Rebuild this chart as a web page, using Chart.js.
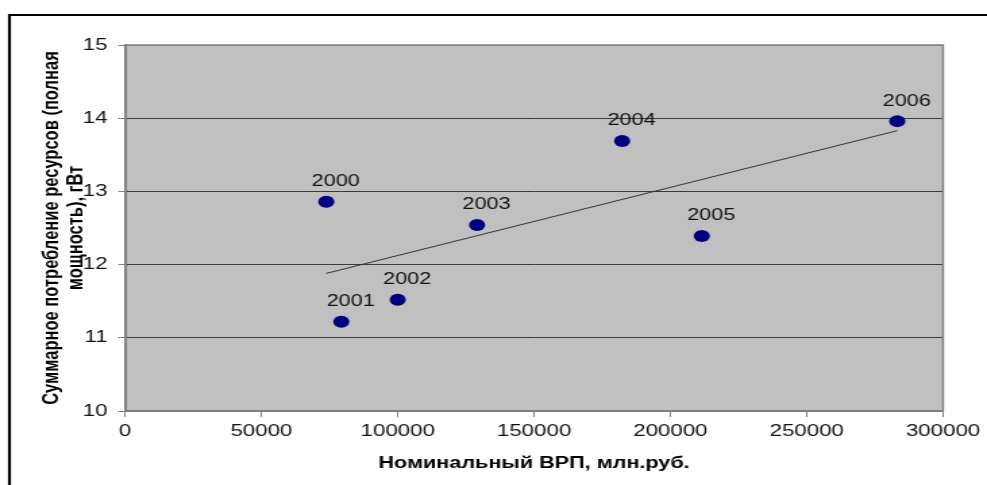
<!DOCTYPE html>
<html>
<head>
<meta charset="utf-8">
<script src="https://cdn.jsdelivr.net/npm/chart.js@4.4.1/dist/chart.umd.min.js"></script>
<style>
  html, body { margin: 0; padding: 0; background: #fff; overflow: hidden; }
  /* the reference picture is stretched sideways, so the chart is drawn narrow and widened */
  #wrap { width: 731px; height: 485px; transform: scaleX(1.3502); transform-origin: 0 0; }
</style>
</head>
<body>
<div id="wrap"><canvas id="chart_1" width="731" height="485"></canvas></div>
<script>
const years = ["2000", "2001", "2002", "2003", "2004", "2005", "2006"];
const grpValues = [73800, 79300, 100000, 129100, 182300, 211500, 283200]; // млн.руб.
const powerValues = [12.86, 11.22, 11.52, 12.54, 13.69, 12.39, 13.96]; // гВт
const trendX = [73800, 283200];
const trendY = [11.88, 13.83];
const xTicks = [0, 50000, 100000, 150000, 200000, 250000, 300000];
const yTicks = [10, 11, 12, 13, 14, 15];

const FONT = "'Liberation Sans', Arial, sans-serif";

const points = grpValues.map((x, i) => ({ x: x, y: powerValues[i] }));
const trend = trendX.map((x, i) => ({ x: x, y: trendY[i] }));

// grey plot area + outer frame
const backdrop = {
  id: "backdrop",
  beforeDraw(chart) {
    const { ctx, chartArea: a } = chart;
    ctx.save();
    ctx.fillStyle = "#c0c0c0";
    ctx.fillRect(a.left, a.top, a.right - a.left, a.bottom - a.top);
    ctx.strokeStyle = "#000";
    ctx.lineWidth = 2.2;
    ctx.beginPath();
    ctx.moveTo(7, chart.height);
    ctx.lineTo(7, 15);
    ctx.lineTo(chart.width, 15);
    ctx.stroke();
    ctx.restore();
  },
  beforeDatasetsDraw(chart) {
    const { ctx, chartArea: a } = chart;
    ctx.save();
    ctx.strokeStyle = "#808080";
    ctx.lineWidth = 1.5;
    ctx.beginPath();
    ctx.moveTo(a.left, a.top);
    ctx.lineTo(a.right, a.top);
    ctx.lineTo(a.right, a.bottom);
    ctx.stroke();
    ctx.restore();
  },
};

// year labels above the points
const yearLabels = {
  id: "yearLabels",
  afterDatasetsDraw(chart) {
    const { ctx } = chart;
    const meta = chart.getDatasetMeta(1);
    ctx.save();
    ctx.font = "16px " + FONT;
    ctx.fillStyle = "#111";
    ctx.textAlign = "center";
    ctx.textBaseline = "middle";
    meta.data.forEach((pt, i) => {
      ctx.fillText(years[i], pt.x + 7, pt.y - 20);
    });
    ctx.restore();
  },
};

new Chart(document.getElementById("chart_1"), {
  type: "scatter",
  data: {
    datasets: [
      {
        type: "line",
        label: "trend",
        data: trend,
        borderColor: "#333",
        borderWidth: 1,
        pointRadius: 0,
        fill: false,
      },
      {
        label: "ВРП",
        data: points,
        backgroundColor: "#000080",
        borderColor: "#000080",
        borderWidth: 0,
        pointRadius: 6,
        pointHoverRadius: 6,
      },
    ],
  },
  options: {
    responsive: false,
    animation: false,
    devicePixelRatio: 1,
    layout: {
      padding: { top: 45, right: 30.3, bottom: 0, left: 0 },
    },
    scales: {
      x: {
        type: "linear",
        min: 0,
        max: 300000,
        afterBuildTicks: (scale) => {
          scale.ticks = xTicks.map((v) => ({ value: v }));
        },
        afterFit: (scale) => {
          scale.height = 74;
        },
        grid: {
          drawOnChartArea: false,
          drawTicks: true,
          tickLength: 6,
          tickColor: "#808080",
        },
        border: { display: true, color: "#808080", width: 2 },
        ticks: {
          color: "#111",
          font: { family: FONT, size: 16.5 },
          padding: 5,
          maxRotation: 0,
          autoSkip: false,
          callback: (v) => String(v),
        },
        title: {
          display: true,
          text: "Номинальный ВРП, млн.руб.",
          color: "#000",
          font: { family: FONT, size: 16, weight: "bold" },
          padding: { top: 4, bottom: 12 },
        },
      },
      y: {
        min: 10,
        max: 15,
        afterBuildTicks: (scale) => {
          scale.ticks = yTicks.map((v) => ({ value: v }));
        },
        afterFit: (scale) => {
          scale.width = 92.6;
        },
        grid: {
          color: (c) => (c.tick && c.tick.value === 15 ? "#808080" : "#3a3a3a"),
          lineWidth: 1,
          drawTicks: true,
          tickLength: 5,
          tickColor: "#808080",
        },
        border: { display: true, color: "#808080", width: 2 },
        ticks: {
          color: "#111",
          font: { family: FONT, size: 16.5 },
          padding: 8,
          autoSkip: false,
        },
        title: {
          display: true,
          text: ["Суммарное потребление ресурсов (полная", "мощность), гВт"],
          color: "#000",
          font: { family: FONT, size: 16.5, weight: "bold", lineHeight: 1.1 },
          padding: { top: 29, bottom: 0 },
        },
      },
    },
    plugins: {
      legend: { display: false },
      tooltip: { enabled: false },
    },
  },
  plugins: [backdrop, yearLabels],
});
</script>
</body>
</html>
